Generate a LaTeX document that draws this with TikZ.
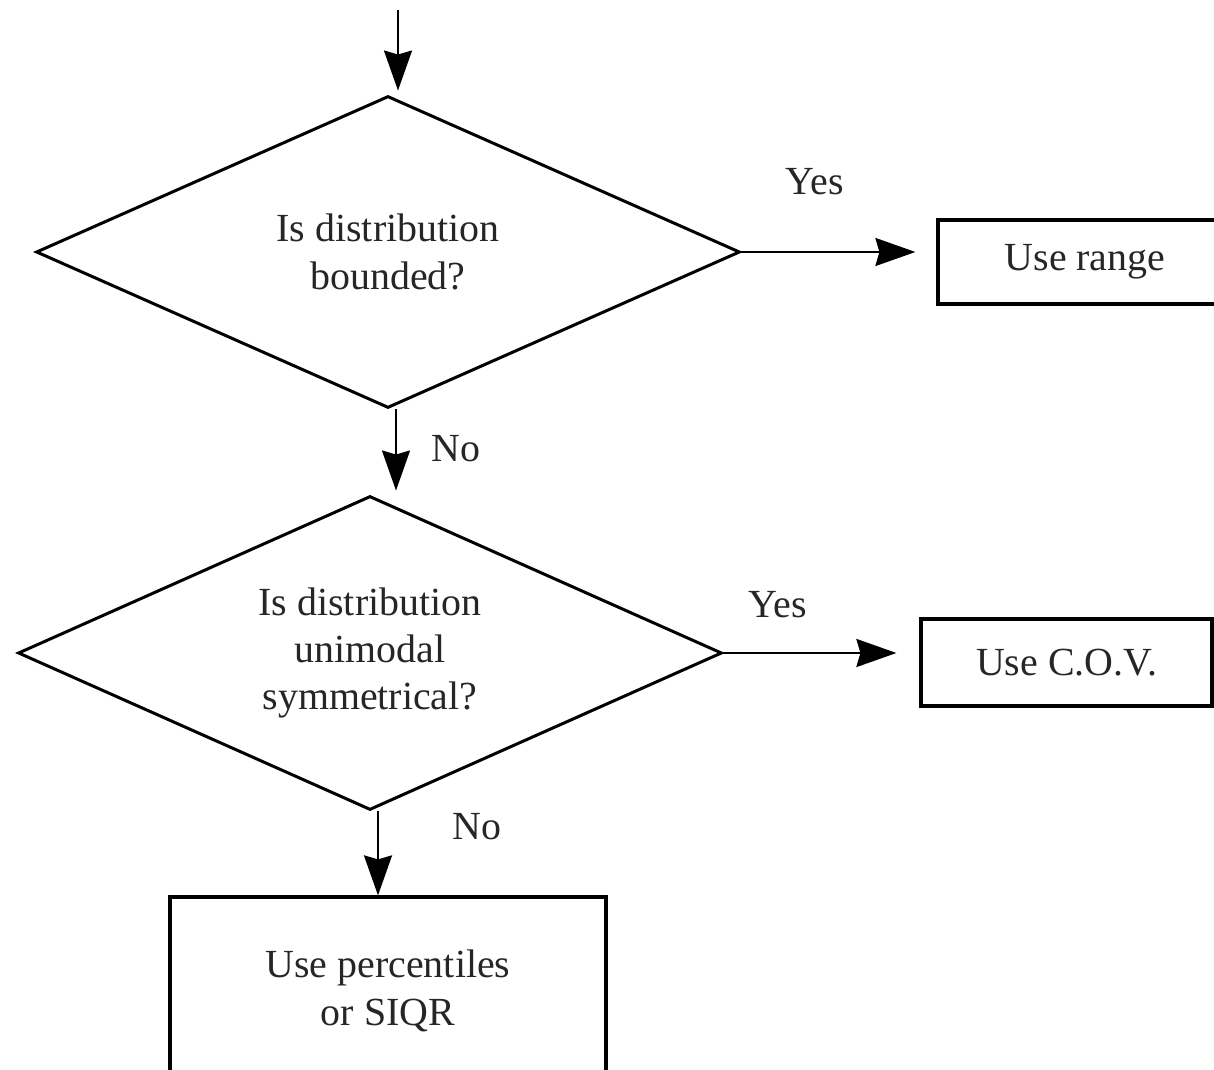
\documentclass[tikz,border=0pt]{standalone}
\usepackage{fontspec}
\setmainfont{Liberation Serif}
\usetikzlibrary{shapes.geometric,arrows.meta}
\begin{document}
\begin{tikzpicture}[x=0.02cm,y=-0.02cm,
  every node/.style={font=\fontsize{22.7pt}{27pt}\selectfont, text=black!85},
  decision/.style={draw=black, line width=0.06cm, diamond, inner sep=0pt,
    minimum width=14.08cm, minimum height=6.24cm},
  dtext/.style={label={[align=center, inner sep=0pt]center:#1}},
  actionbox/.style={draw=black, line width=0.065cm, rectangle, inner sep=0pt, align=center},
  arr/.style={draw=black, line width=0.045cm,
    -{Stealth[length=0.8cm, width=0.56cm, inset=0.08cm]}},
  lbl/.style={inner sep=0pt}]
\useasboundingbox (0,0) rectangle (1214,1070);
\clip (0,0) rectangle (1214,1070);

\coordinate (start) at (398,10);
\node[decision, dtext={Is distribution\\bounded?}] (d1) at (388,252) {};
\node[decision, minimum height=6.28cm, dtext={Is distribution\\unimodal\\symmetrical?}] (d2) at (370,653) {};
\node[actionbox, minimum width=5.88cm, minimum height=1.68cm] (b1) at (1085,262) {Use range};
\node[actionbox, minimum width=5.82cm, minimum height=1.74cm] (b2) at (1066.5,662.5) {Use C.O.V.};
\node[actionbox, minimum width=8.72cm, minimum height=3.76cm] (b3) at (388,991) {Use percentiles\\or SIQR};

\draw[arr, shorten >=0.08cm] (start) -- (start |- d1.north);
\draw[arr, shorten >=0.42cm] (d1.east) -- (b1.west |- d1.east);
\draw[arr, shorten >=0.08cm] ([xshift=0.16cm]d1.south) -- ([xshift=0.16cm]d1.south |- d2.north);
\draw[arr, shorten >=0.46cm] (d2.east) -- (b2.west |- d2.east);
\draw[arr] ([xshift=0.16cm]d2.south) -- ([xshift=0.16cm]d2.south |- b3.north);

\node[lbl] (y1) at (815,182) {Yes};
\node[lbl] (n1) at (456,449) {No};
\node[lbl] (y2) at (778,605) {Yes};
\node[lbl] (n2) at (477,827) {No};
\end{tikzpicture}
\end{document}
